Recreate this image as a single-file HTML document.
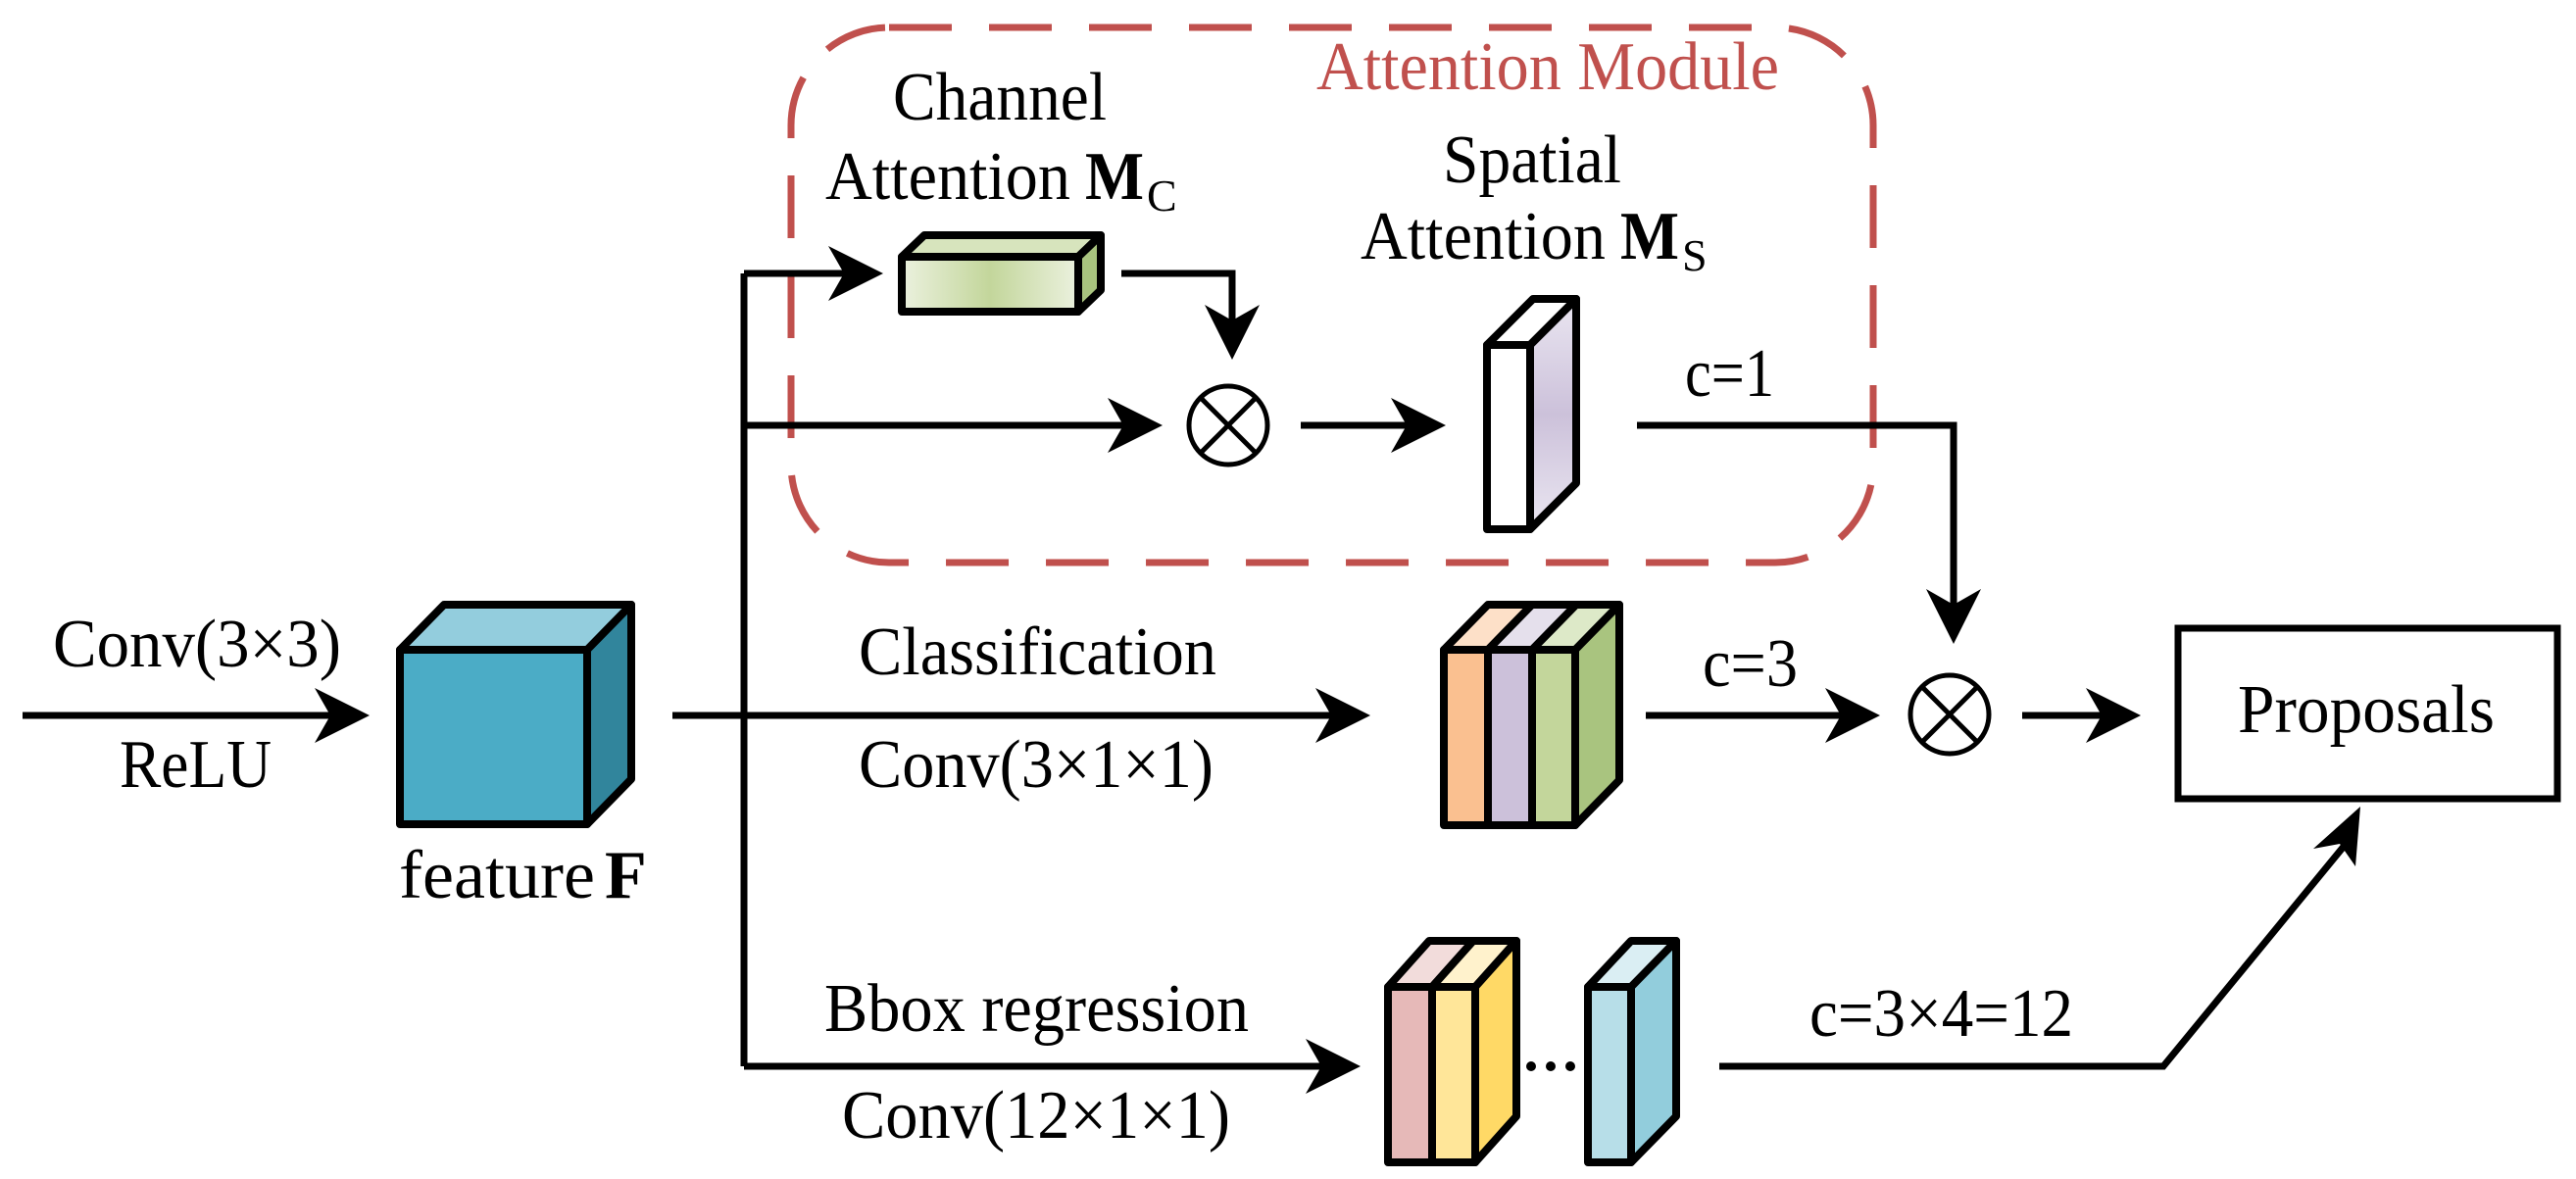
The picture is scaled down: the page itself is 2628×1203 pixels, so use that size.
<!DOCTYPE html>
<html><head><meta charset="utf-8"><style>html,body{margin:0;padding:0;background:#fff}svg{display:block}svg text{font-family:"Liberation Serif","Times New Roman",serif}</style></head>
<body>
<svg width="2628" height="1203" viewBox="0 0 2628 1203" xmlns="http://www.w3.org/2000/svg" font-family="'Liberation Serif', serif">
<defs>
<linearGradient id="gch" x1="0" x2="1" y1="0" y2="0"><stop offset="0" stop-color="#EBF1DE"/><stop offset="0.5" stop-color="#C3D69B"/><stop offset="1" stop-color="#EBF1DE"/></linearGradient>
<linearGradient id="gsp" x1="0" x2="0" y1="0" y2="1"><stop offset="0" stop-color="#EAE6F1"/><stop offset="0.5" stop-color="#CCC1DA"/><stop offset="1" stop-color="#EAE6F1"/></linearGradient>
</defs>

<rect x="807" y="28" width="1104" height="546" rx="100" ry="100" fill="none" stroke="#C0504D" stroke-width="7" stroke-dasharray="64 38"/>
<text x="1343" y="91" font-size="70" fill="#C0504D" textLength="472" lengthAdjust="spacingAndGlyphs">Attention Module</text>

<g stroke="#000" stroke-width="7" fill="none" stroke-linejoin="miter">
<line x1="23" y1="730" x2="340" y2="730"/>
<line x1="759" y1="279" x2="759" y2="1088"/>
<line x1="686" y1="730" x2="1370" y2="730"/>
<line x1="759" y1="279" x2="880" y2="279"/>
<line x1="759" y1="434" x2="1160" y2="434"/>
<line x1="759" y1="1088" x2="1360" y2="1088"/>
<polyline points="1144,279 1257,279 1257,345"/>
<line x1="1327" y1="434" x2="1450" y2="434"/>
<polyline points="1670,434 1993,434 1993,630"/>
<line x1="1679" y1="730" x2="1895" y2="730"/>
<line x1="2063" y1="730" x2="2160" y2="730"/>
<polyline points="1754,1088 2207,1088 2394,860"/>
</g>

<g fill="#000">
<path d="M377,730 L321,702 L337,730 L321,758 Z"/>
<path d="M901,279 L845,251 L861,279 L845,307 Z"/>
<path d="M1186,434 L1130,406 L1146,434 L1130,462 Z"/>
<path d="M1257,367 L1229,311 L1257,327 L1285,311 Z"/>
<path d="M1475,434 L1419,406 L1435,434 L1419,462 Z"/>
<path d="M1993,657 L1965,601 L1993,617 L2021,601 Z"/>
<path d="M1398,730 L1342,702 L1358,730 L1342,758 Z"/>
<path d="M1918,730 L1862,702 L1878,730 L1862,758 Z"/>
<path d="M2184,730 L2128,702 L2144,730 L2128,758 Z"/>
<path d="M1388,1088 L1332,1060 L1348,1088 L1332,1116 Z"/>
<path d="M2408,823 L2403,884 L2387,861 L2360,866 Z"/>
</g>

<g stroke="#000" stroke-width="5" fill="#fff">
<circle cx="1253" cy="434" r="40"/>
<line x1="1226" y1="407" x2="1280" y2="461"/><line x1="1280" y1="407" x2="1226" y2="461"/>
<circle cx="1989" cy="729" r="40"/>
<line x1="1962" y1="702" x2="2016" y2="756"/><line x1="2016" y1="702" x2="1962" y2="756"/>
</g>

<g stroke="#000" stroke-width="8" stroke-linejoin="round">
<polygon points="408,663 453,617 644,617 599,663" fill="#93CDDD"/>
<polygon points="599,663 644,617 644,795 599,841" fill="#31859C"/>
<rect x="408" y="663" width="191" height="178" fill="#4BACC6"/>
<polygon points="920,262 943,240 1123,240 1100,262" fill="#D7E4BD"/>
<polygon points="1100,262 1123,240 1123,296 1100,318" fill="#A9C47F"/>
<rect x="920" y="262" width="180" height="56" fill="url(#gch)"/>
<polygon points="1517,352 1564,305 1608,305 1561,352" fill="#fff"/>
<polygon points="1561,352 1608,305 1608,493 1561,540" fill="url(#gsp)"/>
<rect x="1517" y="352" width="44" height="188" fill="#fff"/>
<polygon points="1473,663 1518,617 1563,617 1518,663" fill="#FDE0C8"/>
<polygon points="1518,663 1563,617 1608,617 1563,663" fill="#E5E0EC"/>
<polygon points="1563,663 1608,617 1652,617 1607,663" fill="#DDE9C8"/>
<polygon points="1607,663 1652,617 1652,796 1607,842" fill="#A9C47F"/>
<rect x="1473" y="663" width="45" height="179" fill="#FAC090"/>
<rect x="1518" y="663" width="45" height="179" fill="#CCC1DA"/>
<rect x="1563" y="663" width="44" height="179" fill="#C3D69B"/>
<polygon points="1416,1007 1458,960 1503,960 1461,1007" fill="#F2DCDB"/>
<polygon points="1461,1007 1503,960 1547,960 1505,1007" fill="#FFF2CC"/>
<polygon points="1505,1007 1547,960 1547,1139 1505,1186" fill="#FFD966"/>
<rect x="1416" y="1007" width="45" height="179" fill="#E6B9B8"/>
<rect x="1461" y="1007" width="44" height="179" fill="#FFE699"/>
<polygon points="1620,1007 1664,960 1710,960 1664,1007" fill="#DAEEF3"/>
<polygon points="1664,1007 1710,960 1710,1139 1664,1186" fill="#92CDDC"/>
<rect x="1620" y="1007" width="44" height="179" fill="#B7DEE8"/>
</g>
<g fill="#000"><circle cx="1562" cy="1088" r="5"/><circle cx="1582" cy="1088" r="5"/><circle cx="1602" cy="1088" r="5"/></g>

<rect x="2222" y="641" width="387" height="174" fill="#fff" stroke="#000" stroke-width="7"/>

<g font-size="70" fill="#000">
<text x="2414" y="747" text-anchor="middle" textLength="262" lengthAdjust="spacingAndGlyphs">Proposals</text>
<text x="54" y="680" textLength="294" lengthAdjust="spacingAndGlyphs">Conv(3×3)</text>
<text x="122" y="803" textLength="155" lengthAdjust="spacingAndGlyphs">ReLU</text>
<text x="407" y="916" textLength="200" lengthAdjust="spacingAndGlyphs">feature</text>
<text x="617" y="916" font-weight="bold">F</text>
<text x="876" y="688" textLength="365" lengthAdjust="spacingAndGlyphs">Classification</text>
<text x="876" y="803" textLength="362" lengthAdjust="spacingAndGlyphs">Conv(3×1×1)</text>
<text x="841" y="1052" textLength="433" lengthAdjust="spacingAndGlyphs">Bbox regression</text>
<text x="859" y="1161" textLength="396" lengthAdjust="spacingAndGlyphs">Conv(12×1×1)</text>
<text x="1737" y="700" textLength="97" lengthAdjust="spacingAndGlyphs">c=3</text>
<text x="1719" y="404" textLength="91" lengthAdjust="spacingAndGlyphs">c=1</text>
<text x="1846" y="1057" textLength="269" lengthAdjust="spacingAndGlyphs">c=3×4=12</text>
<text x="1020" y="122" text-anchor="middle" textLength="218" lengthAdjust="spacingAndGlyphs">Channel</text>
<text x="842" y="203" textLength="250" lengthAdjust="spacingAndGlyphs">Attention</text>
<text x="1107" y="203" font-weight="bold" textLength="60" lengthAdjust="spacingAndGlyphs">M</text><text x="1170" y="215" font-size="46">C</text>
<text x="1563" y="186" text-anchor="middle" textLength="182" lengthAdjust="spacingAndGlyphs">Spatial</text>
<text x="1388" y="264" textLength="250" lengthAdjust="spacingAndGlyphs">Attention</text>
<text x="1653" y="264" font-weight="bold" textLength="60" lengthAdjust="spacingAndGlyphs">M</text><text x="1716" y="276" font-size="46">S</text>
</g>
</svg>
</body></html>
